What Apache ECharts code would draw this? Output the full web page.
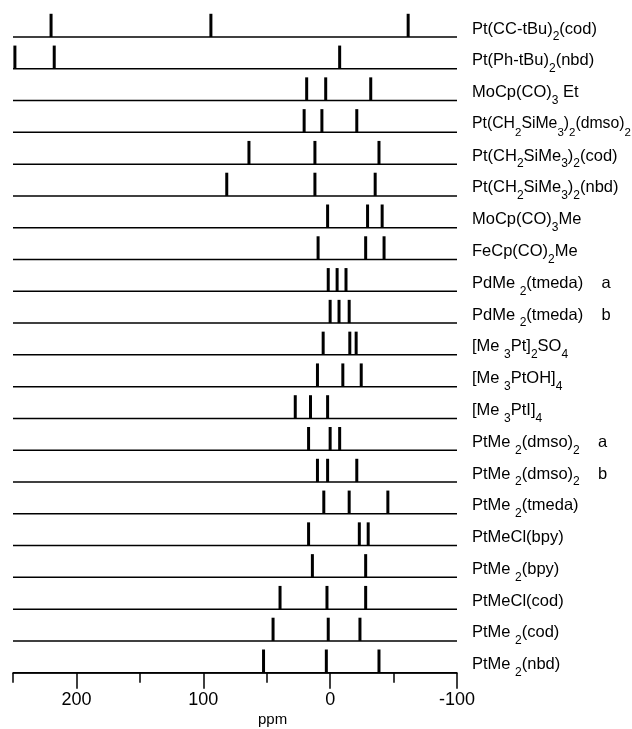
<!DOCTYPE html>
<html>
<head>
<meta charset="utf-8">
<script src="https://cdn.jsdelivr.net/npm/echarts@6/dist/echarts.min.js"></script>
<style>html,body{margin:0;padding:0;background:#fff}#c{width:632px;height:729px}</style>
</head>
<body>
<div id="c"></div>
<script>
// Compounds, top to bottom ( _{x} marks a subscript )
const compounds = [
  'Pt(CC-tBu)_{2}(cod)',
  'Pt(Ph-tBu)_{2}(nbd)',
  'MoCp(CO)_{3} Et',
  'Pt(CH_{2}SiMe_{3})_{2}(dmso)_{2}',
  'Pt(CH_{2}SiMe_{3})_{2}(cod)',
  'Pt(CH_{2}SiMe_{3})_{2}(nbd)',
  'MoCp(CO)_{3}Me',
  'FeCp(CO)_{2}Me',
  'PdMe _{2}(tmeda)    a',
  'PdMe _{2}(tmeda)    b',
  '[Me _{3}Pt]_{2}SO_{4}',
  '[Me _{3}PtOH]_{4}',
  '[Me _{3}PtI]_{4}',
  'PtMe _{2}(dmso)_{2}    a',
  'PtMe _{2}(dmso)_{2}    b',
  'PtMe _{2}(tmeda)',
  'PtMeCl(bpy)',
  'PtMe _{2}(bpy)',
  'PtMeCl(cod)',
  'PtMe _{2}(cod)',
  'PtMe _{2}(nbd)'
];
// Chemical shifts (ppm) of each row's lines, top to bottom
const shifts = [
  [220, 94, -61.5],
  [248.5, 217.5, -7.5],
  [18.5, 3.5, -32],
  [20.5, 6.5, -21],
  [64, 12, -38.5],
  [81.5, 12, -35.5],
  [2, -29.5, -41],
  [9.5, -28, -42.5],
  [1.5, -5.5, -12.5],
  [0, -7, -15],
  [5.5, -15.5, -20.5],
  [10, -10, -24.5],
  [27.5, 15.5, 2],
  [17, 0, -7.5],
  [10, 2, -21],
  [5, -15, -45.5],
  [17, -23, -30],
  [14, -28],
  [39.5, 2.5, -28],
  [45, 1.5, -23.5],
  [52.5, 3, -38.5]
];
const majorTicks = [200, 100, 0, -100];
const minorTicks = [250, 150, 50, -50];
const xMin = -100, xMax = 250;
const peakHeight = 0.73; // in row units

const nRows = compounds.length;
const rowY = i => nRows - 1 - i;

const FONT = '"Liberation Sans", Arial, sans-serif';
const MAIN_SIZE = 16.5, SUB_SIZE = 12, PAGE_W = 632;
function toRich(s) {
  return '{m|' + s.replace(/_\{([^}]*)\}/g, '}{s|$1}{m|') + '}';
}
const measureCtx = document.createElement('canvas').getContext('2d');
function labelWidth(s, scale) {
  let w = 0;
  s.split(/(_\{[^}]*\})/).forEach(part => {
    if (!part) return;
    const m = part.match(/^_\{([^}]*)\}$/);
    measureCtx.font = (m ? SUB_SIZE : MAIN_SIZE) * scale + 'px ' + FONT;
    w += measureCtx.measureText(m ? m[1] : part).width;
  });
  return w;
}

const peakData = [];
shifts.forEach((arr, i) => arr.forEach(v => peakData.push([v, rowY(i)])));
const rowData = compounds.map((c, i) => [xMax, rowY(i), i]);

const gridPos = { left: 13, right: 175, top: 5.2, bottom: 56.3 };

const chart = echarts.init(document.getElementById('c'), null, { renderer: 'canvas' });
chart.setOption({
  animation: false,
  backgroundColor: '#fff',
  grid: [Object.assign({}, gridPos), Object.assign({}, gridPos)],
  xAxis: [
    {
      type: 'value', gridIndex: 0, min: xMin, max: xMax, inverse: true, position: 'bottom',
      splitLine: { show: false },
      axisLine: { show: true, lineStyle: { color: '#000', width: 1.5 } },
      axisTick: { show: true, customValues: minorTicks, length: 10, lineStyle: { color: '#000', width: 1.5 } },
      axisLabel: { show: false }
    },
    {
      type: 'value', gridIndex: 1, min: xMin, max: xMax, inverse: true, position: 'bottom',
      splitLine: { show: false },
      axisLine: { show: false },
      axisTick: { show: true, customValues: majorTicks, length: 16, lineStyle: { color: '#000', width: 1.5 } },
      axisLabel: { show: true, customValues: majorTicks, margin: 18, color: '#000', fontSize: 18, fontFamily: FONT }
    }
  ],
  yAxis: [
    { type: 'value', gridIndex: 0, min: 0, max: nRows, show: false },
    { type: 'value', gridIndex: 1, min: 0, max: nRows, show: false }
  ],
  graphic: [
    { type: 'text', left: 258, top: 712, style: { text: 'ppm', fontSize: 15, fontFamily: FONT, fill: '#000' } }
  ],
  series: [
    {
      type: 'custom', xAxisIndex: 0, yAxisIndex: 0, data: rowData, silent: true,
      renderItem: function (params, api) {
        const y = api.value(1);
        const p0 = api.coord([xMax, y]);
        const p1 = api.coord([xMin, y]);
        const idx = api.value(2);
        const lx = p1[0] + 15;
        const avail = PAGE_W - lx - 1;
        const w = labelWidth(compounds[idx], 1);
        const k = w > avail ? avail / w : 1;
        return {
          type: 'group',
          children: [
            { type: 'line', shape: { x1: p0[0], y1: p0[1], x2: p1[0], y2: p1[1] }, style: { stroke: '#000', lineWidth: 1.5 } },
            {
              type: 'text', x: lx, y: p1[1] - 16.5,
              style: {
                text: toRich(compounds[idx]), align: 'left', verticalAlign: 'top', fill: '#000',
                rich: {
                  m: { fontSize: MAIN_SIZE * k, lineHeight: 16.5, verticalAlign: 'top', fontFamily: FONT, fill: '#000' },
                  s: { fontSize: SUB_SIZE * k, lineHeight: 22.5, verticalAlign: 'bottom', fontFamily: FONT, fill: '#000' }
                }
              }
            }
          ]
        };
      }
    },
    {
      type: 'custom', xAxisIndex: 0, yAxisIndex: 0, data: peakData, silent: true,
      renderItem: function (params, api) {
        const base = api.coord([api.value(0), api.value(1)]);
        const h = api.size([0, peakHeight])[1];
        return { type: 'rect', shape: { x: base[0] - 1.5, y: base[1] - h, width: 3, height: h }, style: { fill: '#000' } };
      }
    }
  ]
});
</script>
</body>
</html>
